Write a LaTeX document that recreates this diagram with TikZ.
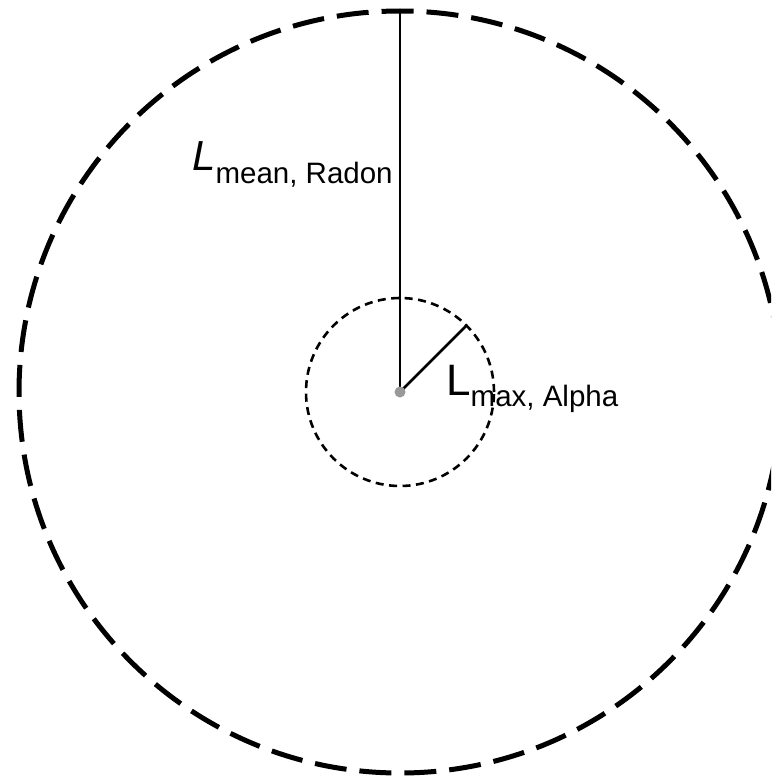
\documentclass[tikz,border=0pt]{standalone}
\usepackage{fontspec}
\setmainfont{Liberation Sans}
\usetikzlibrary{positioning}

\begin{document}
\begin{tikzpicture}[x=1pt, y=-1pt,
  rangecircle/.style={circle, draw=black, inner sep=0pt, outer sep=0pt},
  radline/.style={draw=black, line width=2.5pt},
  lentext/.style={inner sep=0pt, anchor=base west}
]
  \clip (0,0) rectangle (771,776);
  \useasboundingbox (0,0) rectangle (771,776);

  \coordinate (c) at (400,392);

  % ranges
  \node[rangecircle, minimum size=762pt, line width=5pt, dash pattern=on 32pt off 13pt] (outer) at (c) {};
  \node[rangecircle, minimum size=188pt, line width=2.6pt, dash pattern=on 8pt off 5.5pt] (inner) at (c) {};

  % radii
  \draw[radline] (c) -- (outer.north);
  \draw[radline] (c) -- (inner.45);
  \fill[black!40] (c) circle (5.5pt);

  \node[lentext] (lmean) at (192,170) {{\fontsize{42}{42}\selectfont\textit{L}}\raisebox{-13pt}{\fontsize{29.5}{29.5}\selectfont mean, Radon}};
  \node[lentext] (lmax) at (446,395) {{\fontsize{44}{44}\selectfont L}\raisebox{-11pt}{\fontsize{29.5}{29.5}\selectfont max, Alpha}};
\end{tikzpicture}
\end{document}
